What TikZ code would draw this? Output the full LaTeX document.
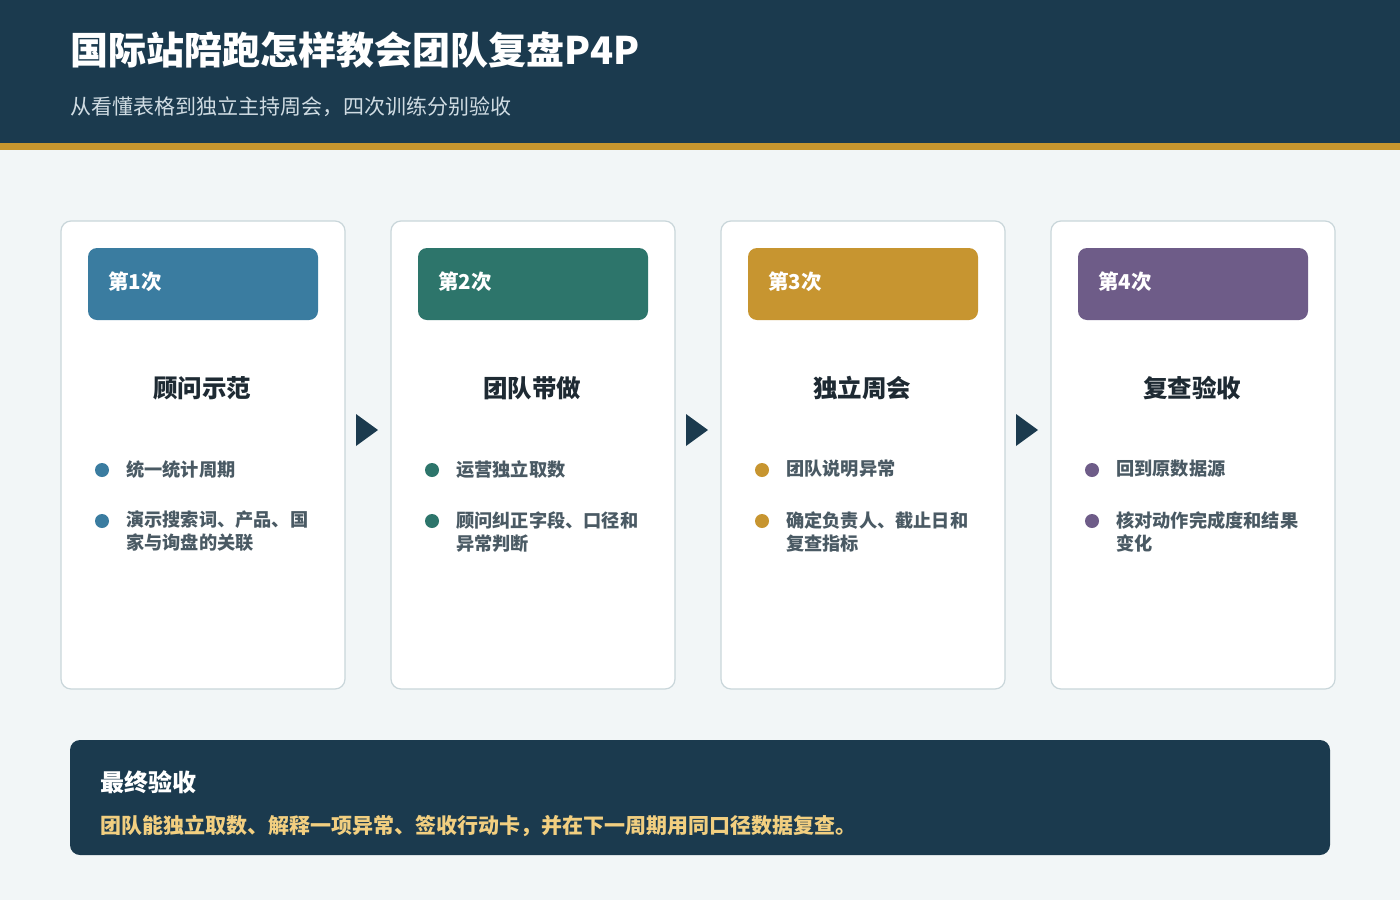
\documentclass[tikz,border=0pt]{standalone}
\usepackage{fontspec}
\setmainfont{Noto Sans CJK SC}
\begin{document}
\begin{tikzpicture}[x=1pt,y=-1pt,
 card/.style={draw=cardb,line width=1.2pt,fill=white,rounded corners=10pt},
 tag/.style={rounded corners=9pt},
 tagt/.style={anchor=west,inner sep=0pt,text=white,font=\fontsize{20.5}{24}\selectfont\bfseries},
 ctitle/.style={font=\fontsize{24.5}{28}\selectfont\bfseries,text=titc},
 btxt/.style={anchor=north west,inner sep=0pt,text=bgray,align=left,font=\fontsize{18.2}{23}\selectfont\bfseries},
 arr/.style={fill=navy}]
\definecolor{navy}{HTML}{1B3A4E}
\definecolor{gold}{HTML}{C8962E}
\definecolor{bg}{HTML}{F2F6F7}
\definecolor{cardb}{HTML}{C9D6DA}
\definecolor{titc}{HTML}{1E2A33}
\definecolor{bgray}{HTML}{4A5A64}
\definecolor{c1}{HTML}{3A7CA0}
\definecolor{c2}{HTML}{2D756B}
\definecolor{c3}{HTML}{C79530}
\definecolor{c4}{HTML}{6E5C88}
\definecolor{yel}{HTML}{F2CF80}
\definecolor{sub}{HTML}{D0DCE3}
\useasboundingbox (0,0) rectangle (1400,900);
\fill[bg] (0,0) rectangle (1400,900);
\fill[navy] (0,0) rectangle (1400,143);
\fill[gold] (0,143) rectangle (1400,150);
\node[anchor=west,text=white,font=\fontsize{38}{42}\selectfont\bfseries,inner sep=0pt] (title) at (70,50) {国际站陪跑怎样教会团队复盘P4P};
\node[anchor=west,text=sub,font=\fontsize{21}{24}\selectfont,inner sep=0pt] (subtitle) at (70,107) {从看懂表格到独立主持周会，四次训练分别验收};
\foreach \i/\x/\c/\t/\a/\b in {1/61/c1/顾问示范/统一统计周期/{演示搜索词、产品、国\\家与询盘的关联},2/391/c2/团队带做/运营独立取数/{顾问纠正字段、口径和\\异常判断},3/721/c3/独立周会/团队说明异常/{确定负责人、截止日和\\复查指标},4/1051/c4/复查验收/回到原数据源/{核对动作完成度和结果\\变化}}{
 \draw[card] (\x,221) rectangle ++(284,468);
 \node[coordinate] (card\i) at (\x+142,430) {};
 \fill[\c,tag] (\x+27,248) rectangle ++(230,72);
 \node[tagt] (tag\i) at (\x+47,282) {第\i 次};
 \node[ctitle] (ct\i) at (\x+141,388) {\t};
 \fill[\c] (\x+41,470) circle (7);
 \node[btxt] (ba\i) at (\x+65,460) {\a};
 \fill[\c] (\x+41,521) circle (7);
 \node[btxt] (bb\i) at (\x+65,511) {\b};
}
\foreach \x in {356,686,1016}{
 \fill[arr] (\x,414) -- (\x+22,430) -- (\x,446) -- cycle;
}
\fill[navy,rounded corners=10pt] (70,740) rectangle (1330,855);
\node[anchor=west,inner sep=0pt,text=white,font=\fontsize{24}{28}\selectfont\bfseries] (ft) at (100,782) {最终验收};
\node[anchor=west,inner sep=0pt,text=yel,font=\fontsize{21}{24}\selectfont\bfseries] (fb) at (100,826) {团队能独立取数、解释一项异常、签收行动卡，并在下一周期用同口径数据复查。};
\end{tikzpicture}
\end{document}
